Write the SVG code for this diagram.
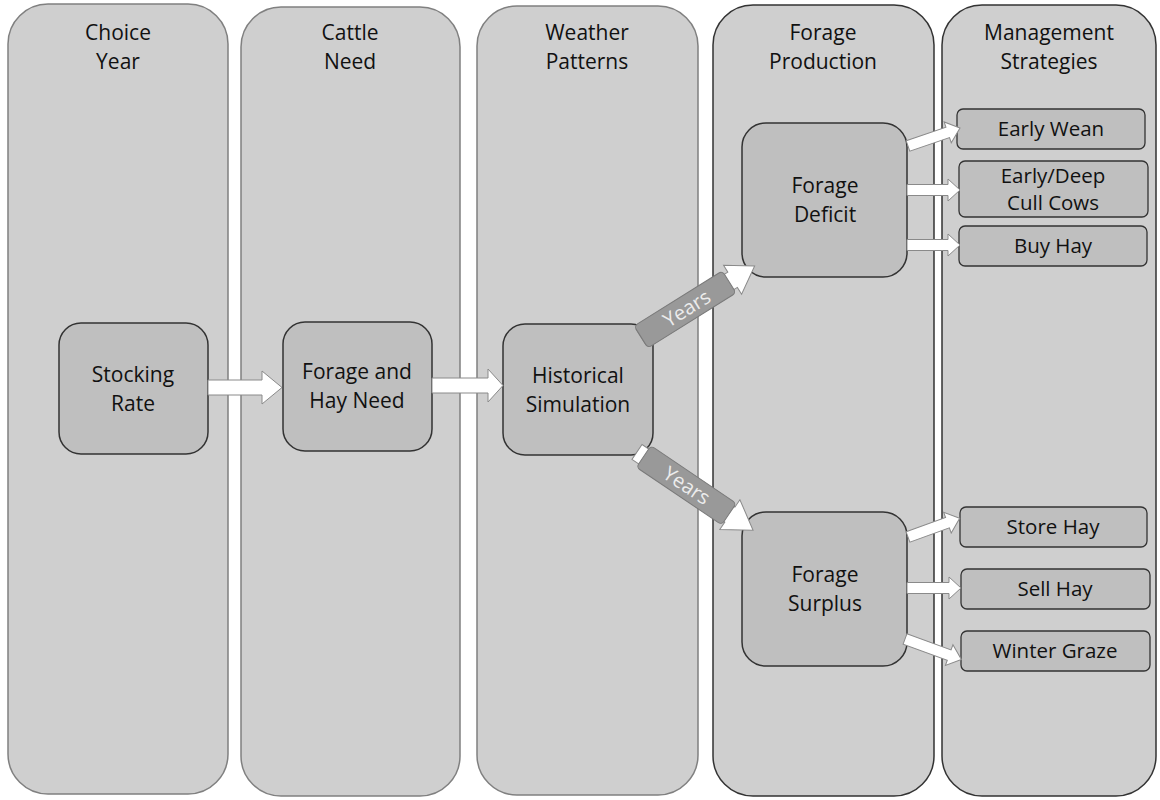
<svg xmlns="http://www.w3.org/2000/svg" width="1160" height="800" viewBox="0 0 1160 800">
<style>
.col{fill:#cfcfcf;stroke:#808080;stroke-width:1.5}
.col2{fill:#cfcfcf;stroke:#333;stroke-width:1.5}
.node{fill:#bfbfbf;stroke:#333;stroke-width:1.5}
.box{fill:#bfbfbf;stroke:#333;stroke-width:1.3}
.t{font-family:"Open Sans","Liberation Sans",sans-serif;font-size:21px;fill:#111;text-anchor:middle}
.th{font-family:"Open Sans","Liberation Sans",sans-serif;font-size:21px;fill:#111;text-anchor:middle}
.ts{font-family:"Open Sans","Liberation Sans",sans-serif;font-size:20.5px;fill:#111;text-anchor:middle}
.arr{fill:#fff;stroke:#8a8a8a;stroke-width:1}
.lbl{fill:#999;stroke:#7a7a7a;stroke-width:1}
.yt{font-family:"Open Sans","Liberation Sans",sans-serif;font-size:20px;fill:#ececec;text-anchor:middle}
</style>
<rect width="1160" height="800" fill="#fff"/>
<g id="columns">
<g id="col-choice-year"><rect class="col" x="8" y="4" width="220" height="790" rx="40"/><text class="th" x="118" y="40">Choice</text><text class="th" x="118" y="69">Year</text></g>
<g id="col-cattle-need"><rect class="col" x="241" y="7" width="219" height="789" rx="40"/><text class="th" x="350" y="40">Cattle</text><text class="th" x="350" y="69">Need</text></g>
<g id="col-weather"><rect class="col" x="477" y="6" width="221" height="789" rx="40"/><text class="th" x="587" y="40">Weather</text><text class="th" x="587" y="69">Patterns</text></g>
<g id="col-forage-production"><rect class="col2" x="713" y="5" width="221" height="791" rx="40"/><text class="th" x="823" y="40">Forage</text><text class="th" x="823" y="69">Production</text></g>
<g id="col-management"><rect class="col2" x="942" y="5" width="214" height="791" rx="40"/><text class="th" x="1049" y="40">Management</text><text class="th" x="1049" y="69">Strategies</text></g>
</g>
<g id="stocking-rate"><rect class="node" x="59" y="323" width="149" height="131" rx="22"/><text class="t" x="133" y="382">Stocking</text><text class="t" x="133" y="411">Rate</text></g>
<g id="forage-hay-need"><rect class="node" x="283" y="322" width="149" height="129" rx="22"/><text class="t" x="357" y="379">Forage and</text><text class="t" x="357" y="408">Hay Need</text></g>
<g id="historical-simulation"><rect class="node" x="503" y="324" width="150" height="131" rx="22"/><text class="t" x="578" y="383">Historical</text><text class="t" x="578" y="412">Simulation</text></g>
<g id="forage-deficit"><rect class="node" x="742" y="123" width="165" height="154" rx="24"/><text class="t" x="825" y="193">Forage</text><text class="t" x="825" y="222">Deficit</text></g>
<g id="forage-surplus"><rect class="node" x="742" y="512" width="165" height="154" rx="24"/><text class="t" x="825" y="582">Forage</text><text class="t" x="825" y="611">Surplus</text></g>
<g id="early-wean"><rect class="box" x="957" y="109" width="188" height="40" rx="6"/><text class="ts" x="1051" y="136">Early Wean</text></g>
<g id="cull-cows"><rect class="box" x="959" y="161" width="189" height="56" rx="6"/><text class="ts" x="1053" y="183">Early/Deep</text><text class="ts" x="1053" y="210">Cull Cows</text></g>
<g id="buy-hay"><rect class="box" x="959" y="226" width="188" height="40" rx="6"/><text class="ts" x="1053" y="253">Buy Hay</text></g>
<g id="store-hay"><rect class="box" x="960" y="507" width="187" height="40" rx="6"/><text class="ts" x="1053" y="534">Store Hay</text></g>
<g id="sell-hay"><rect class="box" x="961" y="569" width="189" height="40" rx="6"/><text class="ts" x="1055" y="596">Sell Hay</text></g>
<g id="winter-graze"><rect class="box" x="961" y="631" width="189" height="40" rx="6"/><text class="ts" x="1055" y="658">Winter Graze</text></g>
<g id="connectors">
<path class="arr" d="M208,380 H262 V371 L282,387.5 L262,404 V395 H208 Z"/>
<path class="arr" d="M432,378 H488 V369 L503,385.5 L488,402 V393 H432 Z"/>
<g transform="translate(641,337) rotate(-32)">
<path class="arr" d="M0,-9 H108 V-17 L134,0 L108,17 V9 H0 Z"/>
<rect class="lbl" x="0" y="-13" width="104" height="26" rx="4"/>
<text class="yt" x="54" y="7">Years</text>
</g>
<g transform="translate(637,452) rotate(34)">
<path class="arr" d="M0,-9 H112 V-18 L140,0 L112,18 V9 H0 Z"/>
<rect class="lbl" x="8" y="-13" width="103" height="26" rx="4"/>
<text class="yt" x="60" y="7">Years</text>
</g>
<g transform="translate(908,146) rotate(-19)"><path class="arr" d="M0,-5.5 H42 V-11 L55,0 L42,11 V5.5 H0 Z"/></g>
<path class="arr" d="M907,184.5 H948 V179 L960,190 L948,201 V195.5 H907 Z"/>
<path class="arr" d="M907,239.5 H948 V234 L960,245 L948,256 V250.5 H907 Z"/>
<g transform="translate(908,537) rotate(-20)"><path class="arr" d="M0,-5.5 H42 V-11 L55,0 L42,11 V5.5 H0 Z"/></g>
<path class="arr" d="M907,582.5 H949 V577 L961,588 L949,599 V593.5 H907 Z"/>
<g transform="translate(905,639) rotate(20)"><path class="arr" d="M0,-5.5 H47 V-11 L60,0 L47,11 V5.5 H0 Z"/></g>
</g>
</svg>
